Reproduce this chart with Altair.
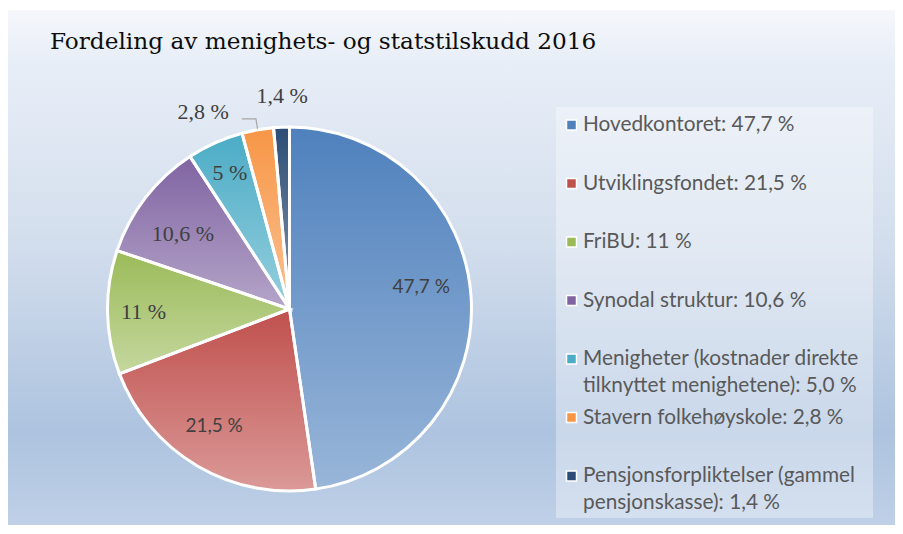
import math
import altair as alt
import pandas as pd

# ---- data ----
categories = [
    "Hovedkontoret",
    "Utviklingsfondet",
    "FriBU",
    "Synodal struktur",
    "Menigheter (kostnader direkte tilknyttet menighetene)",
    "Stavern folkehøyskole",
    "Pensjonsforpliktelser (gammel pensjonskasse)",
]
values = [47.7, 21.5, 11.0, 10.6, 5.0, 2.8, 1.4]
slice_labels = ["47,7 %", "21,5 %", "11 %", "10,6 %", "5 %", "2,8 %", "1,4 %"]
legend_labels = [
    "Hovedkontoret: 47,7 %",
    "Utviklingsfondet: 21,5 %",
    "FriBU: 11 %",
    "Synodal struktur: 10,6 %",
    "Menigheter (kostnader direkte\ntilknyttet menighetene): 5,0 %",
    "Stavern folkehøyskole: 2,8 %",
    "Pensjonsforpliktelser (gammel\npensjonskasse): 1,4 %",
]
colors = ["#4F81BD", "#C0504D", "#9BBB59", "#8064A2", "#4BACC6", "#F79646", "#2C4D75"]
title_text = "Fordeling av menighets- og statstilskudd 2016"

# ---- layout ----
W, H = 887, 515
CX, CY, R = 281.5, 299, 182
total = sum(values)

df = pd.DataFrame({
    "category": categories,
    "value": values,
    "label": slice_labels,
    "legend": legend_labels,
    "idx": list(range(len(categories))),
})

color_scale = alt.Scale(domain=categories, range=colors)
theta_scale = alt.Scale(domain=[0, total])
base = alt.Chart(df)
theta = alt.Theta("value:Q", stack=True, scale=theta_scale)
order = alt.Order("idx:Q", sort="ascending")
cx = alt.value(CX)
cy = alt.value(CY)

bg = {
    "gradient": "linear", "x1": 0, "y1": 0, "x2": 0, "y2": 1,
    "stops": [
        {"offset": 0.0, "color": "#f5f7fb"},
        {"offset": 0.10, "color": "#e8eef7"},
        {"offset": 0.45, "color": "#d3deed"},
        {"offset": 0.82, "color": "#adc3df"},
        {"offset": 1.0, "color": "#bfd0e7"},
    ],
}
shade = {
    "gradient": "linear", "x1": 0, "y1": 0, "x2": 0, "y2": 1,
    "stops": [
        {"offset": 0, "color": "rgba(255,255,255,0)"},
        {"offset": 1, "color": "rgba(255,255,255,0.42)"},
    ],
}

one = pd.DataFrame({"t": [title_text]})

background = alt.Chart(one).mark_rect(fill=bg).encode(
    x=alt.value(0), x2=alt.value(W), y=alt.value(0), y2=alt.value(H)
)

title = alt.Chart(one).mark_text(
    align="left", baseline="alphabetic", font="DejaVu Serif", fontSize=23.2, color="#0d0d0d"
).encode(text="t:N", x=alt.value(42), y=alt.value(39))

arcs = base.mark_arc(outerRadius=R).encode(
    theta=theta, order=order,
    color=alt.Color("category:N", scale=color_scale, legend=None),
    x=cx, y=cy,
)
overlay = base.mark_arc(outerRadius=R, fill=shade, stroke="white", strokeWidth=3).encode(
    theta=theta, order=order, detail="category:N", x=cx, y=cy,
)

# slice labels: mid angle computed by the library from the data
mid = (
    base.transform_window(cum="sum(value)", sort=[alt.SortField("idx", order="ascending")])
    .transform_calculate(mid="datum.cum - datum.value / 2")
)

label_style = {
    0: ("Lato", 19, 132, 0, -12),
    1: ("Lato", 19, 139, -5, -3),
    2: ("Liberation Serif", 22, 146, 0, 0),
    3: ("Liberation Serif", 22, 140, 4, 11),
    4: ("Liberation Serif", 22, 146, 0, -3),
    5: ("Liberation Serif", 22, 213, -49, 13),
    6: ("Liberation Serif", 22, 213, 2, 0),
}
label_layers = []
for i, (font, size, rad, dx, dy) in label_style.items():
    label_layers.append(
        mid.transform_filter(alt.datum.idx == i)
        .mark_text(font=font, fontSize=size, radius=rad, dx=dx, dy=dy, color="#404040")
        .encode(theta=alt.Theta("mid:Q", scale=theta_scale), text="label:N", x=cx, y=cy)
    )

# leader line for the small orange slice
k = 5
a = (sum(values[:k]) + values[k] / 2) / total * 2 * math.pi
ex, ey = CX + (R + 1) * math.sin(a), CY - (R + 1) * math.cos(a)
leader_df = pd.DataFrame({
    "o": [0, 1, 2],
    "px": [ex, ex - 1.5, ex - 15.5],
    "py": [ey, ey - 10, ey - 10],
})
leader = alt.Chart(leader_df).mark_line(color="#a6a6a6", strokeWidth=1.2).encode(
    x=alt.X("px:Q", scale=None), y=alt.Y("py:Q", scale=None), order="o:Q"
)

# legend box
legend_box = alt.Chart(one).mark_rect(fill="white", opacity=0.35).encode(
    x=alt.value(548), x2=alt.value(865), y=alt.value(97), y2=alt.value(508)
)
ypos = alt.Y("idx:O", scale=alt.Scale(type="point", range=[115, 466], padding=0), axis=None)
legend_marks = base.mark_square(size=100, stroke="white", strokeWidth=1.5, opacity=1).encode(
    x=alt.value(563.5), y=ypos,
    color=alt.Color("category:N", scale=color_scale, legend=None),
)
legend_text = base.mark_text(
    align="left", baseline="top", dy=-10, font="Lato", fontSize=20.8, color="#595959",
    lineBreak="\n", lineHeight=27,
).encode(x=alt.value(575), y=ypos, text="legend:N")

chart = alt.layer(
    background, title, arcs, overlay, *label_layers, leader,
    legend_box, legend_marks, legend_text,
).properties(
    width=W, height=H,
    padding={"left": 0, "top": 2, "right": 0, "bottom": 0},
    autosize=alt.AutoSizeParams(type="none"),
).configure_view(stroke=None)

chart.save("out.html", embed_options={"renderer": "svg", "actions": False})
